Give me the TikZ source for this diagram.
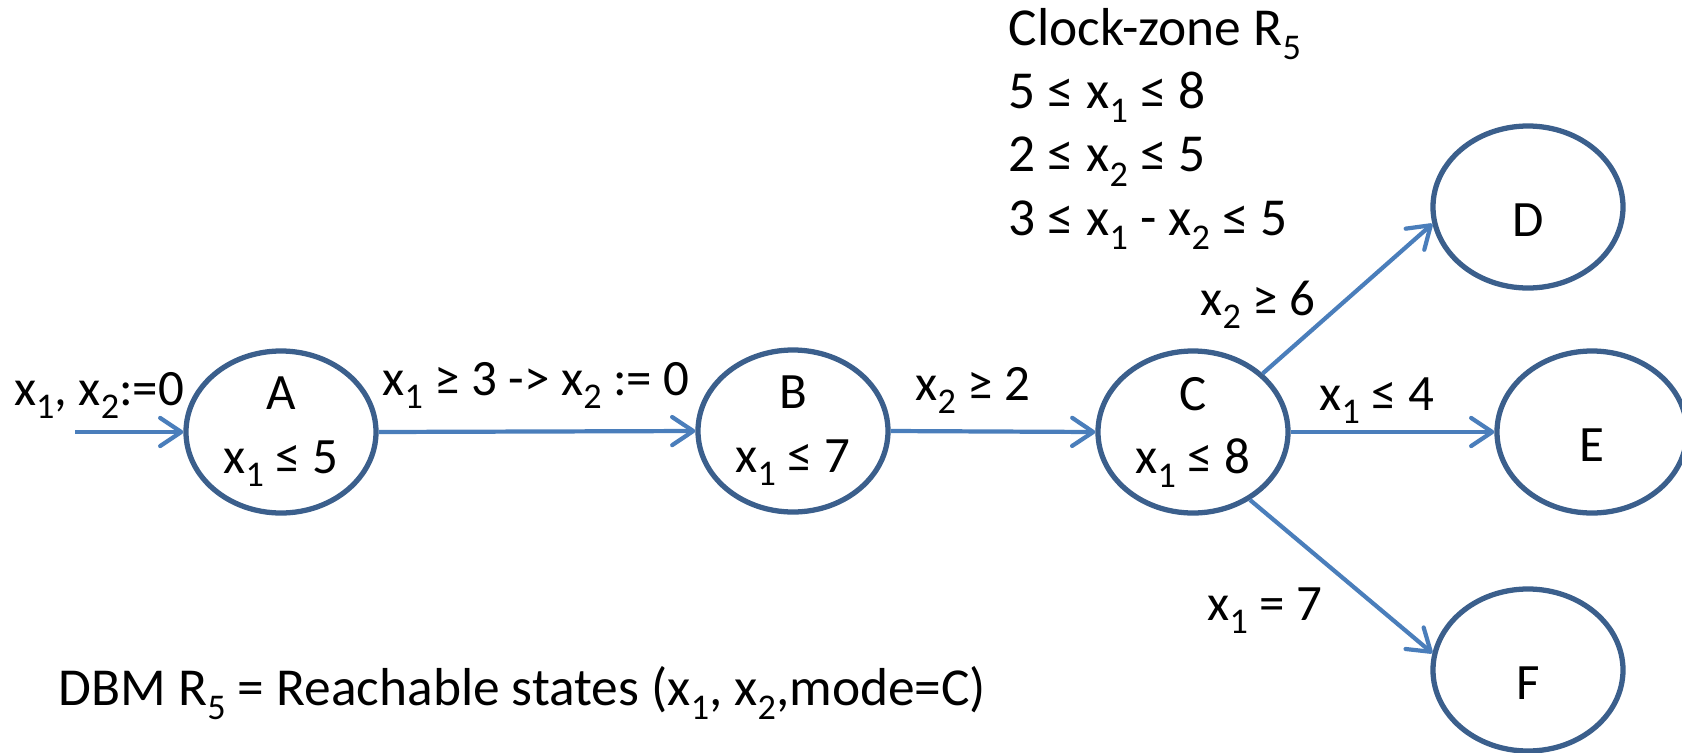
\documentclass[tikz,border=0pt]{standalone}
\usepackage{fontspec}
\setmainfont{Carlito}
\usetikzlibrary{arrows.meta,shapes.geometric}
\definecolor{stateblue}{HTML}{3B5F8C}
\definecolor{edgeblue}{HTML}{4A7EBB}
\newcommand{\ix}[1]{\raisebox{-0.27em}{\fontsize{10.3}{10.3}\selectfont #1}}

\tikzset{
  state/.style={ellipse, draw=stateblue, line width=1.5pt, minimum width=1.9cm,
    minimum height=1.62cm, inner sep=0pt, align=center},
  leaf/.style={state, text height=0.58cm, text depth=0pt},
  trans/.style={draw=edgeblue, line width=1.2pt, -{Straight Barb[length=6pt,width=8pt,round]}},
  lbl/.style={inner sep=0pt, anchor=base},
  note/.style={inner sep=0pt, anchor=base west, font=\fontsize{15.2}{18}\selectfont}
}

\begin{document}
\begin{tikzpicture}[font=\fontsize{14.5}{18}\selectfont]
  \useasboundingbox (0,0) rectangle (16.82,7.52);

  %--- locations ---
  \node[state] (A) at (2.81,3.20) {A\\x\ix{1} ≤ 5};
  \node[state] (B) at (7.93,3.21) {B\\x\ix{1} ≤ 7};
  \node[state] (C) at (11.93,3.20) {C\\x\ix{1} ≤ 8};
  \node[leaf] (D) at (15.28,5.45) {D};
  \node[leaf] (E) at (15.92,3.20) {E};
  \node[leaf] (F) at (15.28,0.82) {F};

  %--- transitions ---
  \coordinate (init) at (0.75,3.20);
  \draw[trans] (init) -- (A.west);
  \draw[trans] (A.east) -- (B.west);
  \draw[trans] (B.east) -- (C.west);
  \draw[trans] (C.40) -- (D.190);
  \draw[trans] (C.east) -- (E.west);
  \draw[trans] (C.310) -- (F.170);

  %--- guards and resets ---
  \node[lbl] (gInit) at (0.99,3.47) {x\ix{1}, x\ix{2}:=0};
  \node[lbl] (gAB) at (5.36,3.57) {x\ix{1} ≥ 3 -> x\ix{2} := 0};
  \node[lbl] (gBC) at (9.73,3.52) {x\ix{2} ≥ 2};
  \node[lbl] (gCD) at (12.58,4.37) {x\ix{2} ≥ 6};
  \node[lbl] (gCE) at (13.77,3.42) {x\ix{1} ≤ 4};
  \node[lbl] (gCF) at (12.65,1.32) {x\ix{1} = 7};

  %--- clock zone and DBM note ---
  \node[note, align=left] (zone) at (10.08,5.17)
    {Clock-zone R\ix{5}\\5 ≤ x\ix{1} ≤ 8\\2 ≤ x\ix{2} ≤ 5\\3 ≤ x\ix{1} - x\ix{2} ≤ 5};
  \node[note] (dbm) at (0.58,0.47)
    {DBM R\ix{5} = Reachable states (x\ix{1}, x\ix{2},mode=C)};

\end{tikzpicture}
\end{document}
